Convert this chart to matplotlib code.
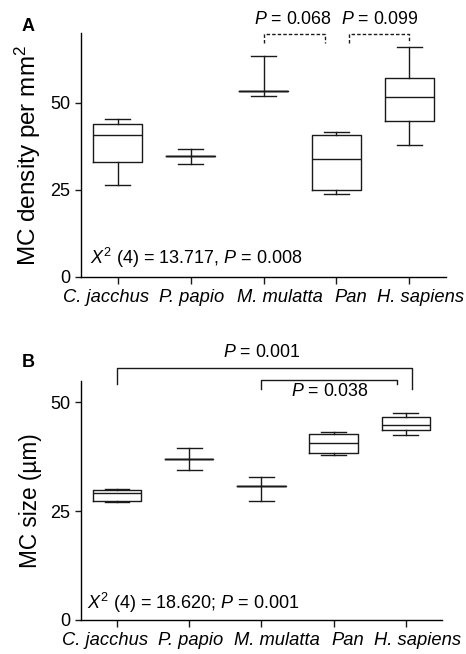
import numpy as np
import matplotlib
matplotlib.use('Agg')
from matplotlib import pyplot as plt
from matplotlib.transforms import ScaledTranslation

plt.rcParams['font.family'] = ['Liberation Sans', 'DejaVu Sans']
plt.rcParams['mathtext.fontset'] = 'custom'
plt.rcParams['mathtext.rm'] = 'Liberation Sans'
plt.rcParams['mathtext.it'] = 'Liberation Sans:italic'
plt.rcParams['mathtext.bf'] = 'Liberation Sans:bold'

species = ['C. jacchus', 'P. papio', 'M. mulatta', 'Pan', 'H. sapiens']

# panel A: MC density per mm2
density_lo = [26.3, 32.3, 51.9, 23.8, 37.8]
density_q1 = [32.9, 34.6, 53.4, 25.0, 44.8]
density_med = [40.6, 34.6, 53.4, 33.8, 51.5]
density_q3 = [43.9, 34.6, 53.4, 40.8, 57.0]
density_hi = [45.2, 36.7, 63.4, 41.5, 66.0]

# panel B: MC size (um)
size_lo = [27.1, 34.4, 27.3, 37.9, 42.4]
size_q1 = [27.3, 36.9, 30.9, 38.4, 43.7]
size_med = [29.2, 36.9, 30.9, 40.6, 44.7]
size_q3 = [29.8, 36.9, 30.9, 42.7, 46.6]
size_hi = [30.0, 39.5, 32.8, 43.3, 47.5]

line_color = '#1a1a1a'
# the species names sit a little off their ticks in the original (pixels)
label_shift = [-12, 1.5, 16, 14, 11.5]


def make_stats(lo, q1, med, q3, hi):
    return [
        dict(whislo=a, q1=b, med=c, q3=d, whishi=e, fliers=[])
        for a, b, c, d, e in zip(lo, q1, med, q3, hi)
    ]


def draw_boxes(fig, ax, stats):
    props = dict(color=line_color, linewidth=1.0)
    positions = np.arange(1, 6)
    ax.bxp(
        stats,
        positions=positions,
        widths=0.67,
        capwidths=0.34,
        showfliers=False,
        boxprops=props,
        medianprops=props,
        whiskerprops=props,
        capprops=props,
    )
    ax.set_xlim(0.5, 5.5)
    ax.set_xticks(positions)
    ax.set_xticklabels([])
    for pos, name, dx in zip(positions, species, label_shift):
        shift = ScaledTranslation(dx / 100, -21 / 100, fig.dpi_scale_trans)
        ax.text(pos, 0, name, transform=ax.get_xaxis_transform() + shift,
                fontstyle='italic', fontsize=13.2, ha='center', va='center')
    ax.set_yticks([0, 25, 50])
    ax.tick_params(axis='y', labelsize=13, length=4.5, width=1, color=line_color)
    ax.tick_params(axis='x', length=5, width=1, color=line_color)
    ax.spines['top'].set_visible(False)
    ax.spines['right'].set_visible(False)
    ax.spines['left'].set_linewidth(1)
    ax.spines['bottom'].set_linewidth(1)


def bracket(ax, x1, x2, y, y1, y2, ls):
    ax.plot([x1, x1, x2, x2], [y1, y, y, y2], color=line_color,
            linewidth=1.0, linestyle=ls, clip_on=False)


fig = plt.figure(figsize=(4.66, 6.54), dpi=100)

# ---- panel A
ax1 = fig.add_axes([0.174, 0.5765, 0.783, 0.373])
draw_boxes(fig, ax1, make_stats(density_lo, density_q1, density_med, density_q3, density_hi))
ax1.set_ylim(0, 70)
ax1.set_ylabel('MC density per mm$^2$', fontsize=17.5, labelpad=5)
bracket(ax1, 3.0, 3.84, 69.8, 67.0, 67.0, (0, (2.5, 1.5)))
bracket(ax1, 4.17, 5.0, 69.8, 67.0, 67.0, (0, (2.5, 1.5)))
ax1.text(3.4, 73.8, '$P$ = 0.068', fontsize=12.8, ha='center', va='center')
ax1.text(4.6, 73.8, '$P$ = 0.099', fontsize=12.8, ha='center', va='center')
ax1.text(0.025, 0.078, r'$X^{\mathrm{2}}$ (4) = 13.717, $P$ = 0.008',
         transform=ax1.transAxes, fontsize=13, ha='left', va='center')
fig.text(0.06, 0.959, 'A', fontsize=13, fontweight='bold', ha='center', va='center')

# ---- panel B
ax2 = fig.add_axes([0.174, 0.052, 0.774, 0.366])
draw_boxes(fig, ax2, make_stats(size_lo, size_q1, size_med, size_q3, size_hi))
ax2.set_ylim(0, 55)
ax2.set_ylabel('MC size (µm)', fontsize=16.3, labelpad=6)
bracket(ax2, 1.0, 5.09, 58.0, 54.2, 53.1, '-')
bracket(ax2, 3.0, 4.88, 55.1, 53.1, 54.2, '-')
ax2.text(3.0, 61.5, '$P$ = 0.001', fontsize=12.8, ha='center', va='center')
ax2.text(3.95, 52.5, '$P$ = 0.038', fontsize=12.8, ha='center', va='center')
ax2.text(0.017, 0.071, r'$X^{\mathrm{2}}$ (4) = 18.620; $P$ = 0.001',
         transform=ax2.transAxes, fontsize=13, ha='left', va='center')
fig.text(0.06, 0.445, 'B', fontsize=13, fontweight='bold', ha='center', va='center')

fig.savefig('out.png', dpi=100)
